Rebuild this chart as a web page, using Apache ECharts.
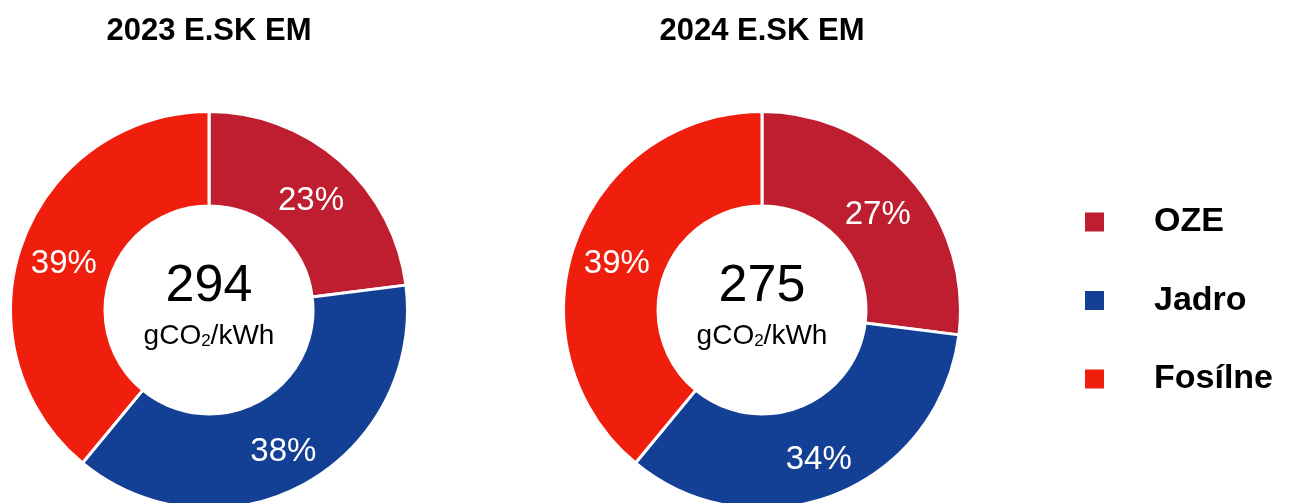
<!DOCTYPE html>
<html>
<head>
<meta charset="utf-8">
<script src="https://cdn.jsdelivr.net/npm/echarts@6/dist/echarts.min.js"></script>
<style>
html,body{margin:0;padding:0;background:#fff;}
#c{width:1293px;height:503px;}
</style>
</head>
<body>
<div id="c"></div>
<script>
// Data
var categories = ['OZE', 'Jadro', 'Fosílne'];
var chartTitles = ['2023 E.SK EM', '2024 E.SK EM'];
var values2023 = [23, 38, 39];
var values2024 = [27, 34, 39];
var intensity = [294, 275];
var unitLabel = 'gCO{s|2}/kWh';

var colors = ['#BE1E2F', '#134094', '#F01E0C'];
var FONT = '"Liberation Sans", Arial, Helvetica, sans-serif';
var centers = [[209, 310], [762, 310]];

function toData(vals) {
  return vals.map(function (v, i) { return { name: categories[i], value: v }; });
}

var chart = echarts.init(document.getElementById('c'), null, { renderer: 'canvas' });

var seriesList = [values2023, values2024].map(function (vals, k) {
  return {
    type: 'pie',
    center: centers[k],
    radius: [104, 198.5],
    startAngle: 90,
    clockwise: true,
    avoidLabelOverlap: false,
    itemStyle: { borderColor: '#ffffff', borderWidth: 3 },
    label: {
      show: true,
      position: 'inside',
      formatter: '\n{c}%',
      color: '#ffffff',
      fontSize: 33,
      lineHeight: 13,
      fontFamily: FONT
    },
    labelLine: { show: false },
    emphasis: { disabled: true },
    data: toData(vals)
  };
});

var titles = chartTitles.map(function (t, k) {
  return {
    text: t,
    left: centers[k][0],
    top: 31,
    textAlign: 'center',
    textVerticalAlign: 'middle',
    padding: 0,
    textStyle: { fontSize: 31, fontWeight: 'bold', color: '#000', fontFamily: FONT }
  };
});

var graphics = [];
intensity.forEach(function (v, k) {
  graphics.push({
    type: 'text',
    x: centers[k][0],
    y: centers[k][1] - 23,
    silent: true,
    style: {
      text: String(v),
      fill: '#000',
      font: '52px ' + FONT,
      align: 'center',
      verticalAlign: 'middle'
    }
  });
  graphics.push({
    type: 'text',
    x: centers[k][0],
    y: centers[k][1] + 26,
    silent: true,
    style: {
      text: unitLabel,
      fill: '#000',
      font: '28px ' + FONT,
      align: 'center',
      verticalAlign: 'middle',
      rich: {
        s: { fontSize: 17, fontFamily: FONT, fill: '#000', verticalAlign: 'bottom', lineHeight: 20, padding: [12, 0, 0, 0] }
      }
    }
  });
});

chart.setOption({
  animation: false,
  color: colors,
  title: titles,
  legend: {
    orient: 'vertical',
    left: 1083,
    top: 205,
    padding: 0,
    icon: 'rect',
    itemWidth: 21,
    itemHeight: 21,
    itemGap: 44.5,
    selectedMode: false,
    data: categories,
    textStyle: {
      fontSize: 34,
      fontWeight: 'bold',
      color: '#000',
      fontFamily: FONT,
      lineHeight: 30,
      padding: [0, 0, 0, 44]
    }
  },
  graphic: graphics,
  series: seriesList
});
</script>
</body>
</html>
